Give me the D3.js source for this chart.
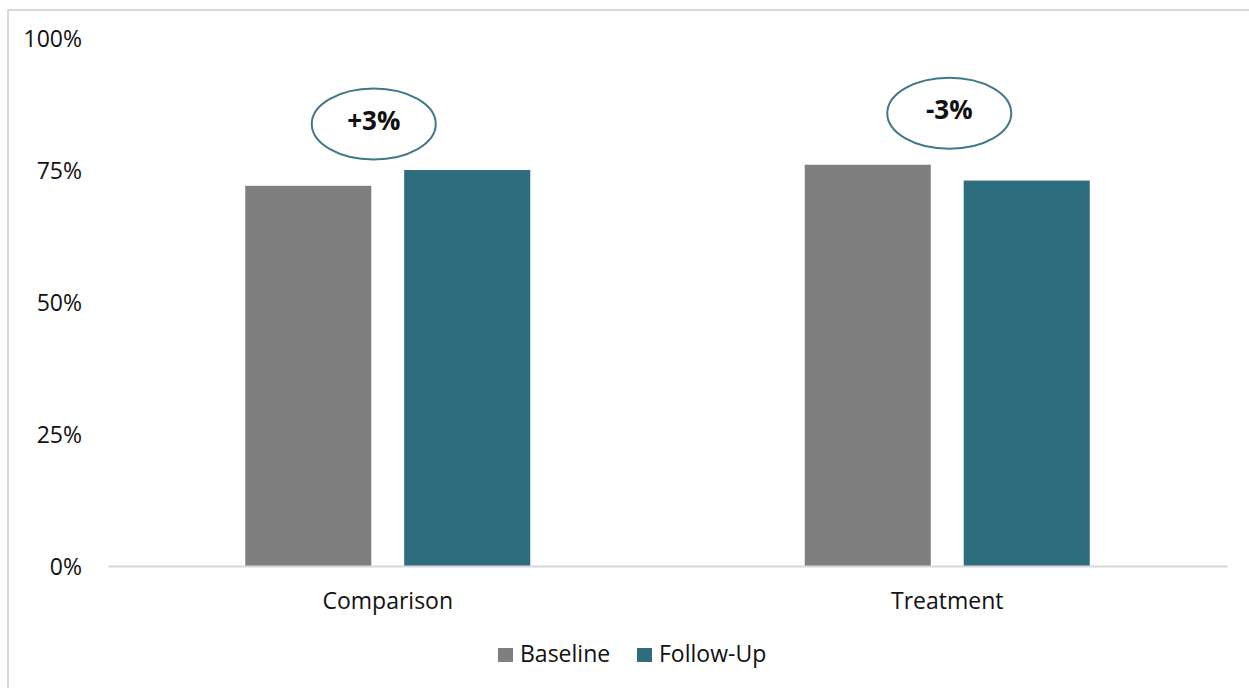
<!DOCTYPE html>
<html>
<head>
<meta charset="utf-8">
<script src="https://cdn.jsdelivr.net/npm/d3@7"></script>
<style>
  html, body { margin: 0; padding: 0; background: #fff; }
  svg { display: block; }
  text { font-family: "Open Sans", "Noto Sans", sans-serif; fill: #111; }
</style>
</head>
<body>
<svg id="chart" width="1249" height="688"></svg>
<script>
const categories = ["Comparison", "Treatment"];
const seriesNames = ["Baseline", "Follow-Up"];
const baselineValues = [72, 76];
const followUpValues = [75, 73];
const changeLabels = ["+3%", "-3%"];
const yTicks = [0, 25, 50, 75, 100];

const colors = { "Baseline": "#7f7f7f", "Follow-Up": "#2e6d7d" };

const svg = d3.select("#chart");

// outer chart border (extends beyond window on right/bottom)
svg.append("rect")
  .attr("x", 8).attr("y", 10)
  .attr("width", 1300).attr("height", 720)
  .attr("fill", "none").attr("stroke", "#d9d9d9").attr("stroke-width", 2);

const plotLeft = 108, plotRight = 1227, plotTop = 38, plotBottom = 566;

const y = d3.scaleLinear().domain([0, 100]).range([plotBottom, plotTop]);

const x0 = d3.scaleBand().domain(categories).range([plotLeft, plotRight])
  .paddingInner(0.4906).paddingOuter(0.2453);
const x1 = d3.scaleBand().domain(seriesNames).range([0, x0.bandwidth()])
  .paddingInner(0.207).paddingOuter(0);

// y axis labels (no line)
const yAxis = d3.axisLeft(y).tickValues(yTicks).tickFormat(d => d + "%").tickSize(0).tickPadding(0);
const gy = svg.append("g").attr("transform", "translate(82,0)").call(yAxis);
gy.select(".domain").remove();
gy.selectAll("text")
  .style("font-family", "'Open Sans', 'Noto Sans', sans-serif")
  .style("font-size", "23px").attr("fill", "#111").attr("dy", "0.36em");

// bars
const rows = categories.map((c, i) => ({ cat: c, values: [
  { s: "Baseline", v: baselineValues[i] },
  { s: "Follow-Up", v: followUpValues[i] }
]}));

const groups = svg.append("g").selectAll("g").data(rows).join("g")
  .attr("transform", d => `translate(${x0(d.cat)},0)`);
groups.selectAll("rect").data(d => d.values).join("rect")
  .attr("x", d => x1(d.s))
  .attr("width", x1.bandwidth())
  .attr("y", d => y(d.v))
  .attr("height", d => y(0) - y(d.v))
  .attr("fill", d => colors[d.s]);

// x axis
const xAxis = d3.axisBottom(x0).tickSize(0).tickPadding(0);
const gx = svg.append("g").attr("transform", `translate(0,${plotBottom})`).call(xAxis);
gx.select(".domain").attr("stroke", "#d9d9d9").attr("stroke-width", 2);
gx.selectAll("text")
  .style("font-family", "'Open Sans', 'Noto Sans', sans-serif")
  .style("font-size", "23px").attr("fill", "#111")
  .attr("dy", null).attr("y", 43);

// change annotations in ellipses
const ellipseDx = [-14, 2];
const ellipseDy = [-46, -51.5];
rows.forEach((r, i) => {
  const cx = x0(r.cat) + x0.bandwidth() / 2 + ellipseDx[i];
  const maxTop = y(d3.max(r.values, d => d.v));
  const cy = maxTop + ellipseDy[i];
  svg.append("ellipse")
    .attr("cx", cx).attr("cy", cy).attr("rx", 62).attr("ry", 35.5)
    .attr("fill", "#fff").attr("stroke", "#3f7888").attr("stroke-width", 2);
  svg.append("text")
    .attr("x", cx).attr("y", cy + 5.5)
    .attr("text-anchor", "middle")
    .style("font-size", "26px").style("font-weight", "bold")
    .attr("fill", "#000")
    .text(changeLabels[i]);
});

// legend
const legendItems = [
  { s: "Baseline", x: 498 },
  { s: "Follow-Up", x: 637 }
];
const lg = svg.append("g");
legendItems.forEach(it => {
  lg.append("rect").attr("x", it.x).attr("y", 648).attr("width", 15).attr("height", 14)
    .attr("fill", colors[it.s]);
  lg.append("text").attr("x", it.x + 22).attr("y", 662)
    .style("font-size", "23px").text(it.s);
});
</script>
</body>
</html>
